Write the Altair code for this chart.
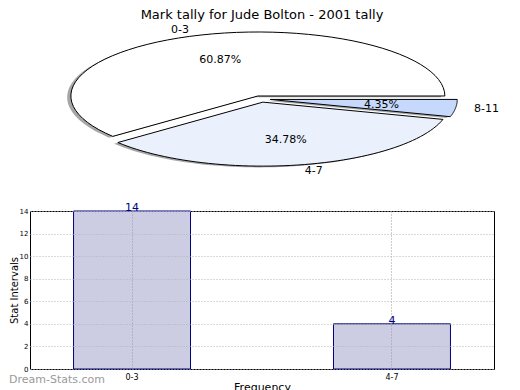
import altair as alt
import pandas as pd

# ---- data ----
title_text = "Mark tally for Jude Bolton - 2001 tally"
pie_cats = ["0-3", "4-7", "8-11"]
pie_vals = [14, 8, 1]
pie_colors = ["#ffffff", "#eaf1fd", "#c6d9fd"]

bar_cats = ["0-3", "4-7"]
bar_vals = [14, 4]
y_ticks = [0, 2, 4, 6, 8, 10, 12, 14]
watermark = "Dream-Stats.com"

FONT = "DejaVu Sans"
EXPLODE = 0.05
N_ARC = 60

pie_df = pd.DataFrame({"cat": pie_cats, "val": pie_vals, "order": list(range(len(pie_cats)))})
bar_df = pd.DataFrame({"cat": bar_cats, "val": bar_vals})
wm_df = pd.DataFrame({"t": [watermark]})

# ---- pie (ellipse, matplotlib style: start east, counter-clockwise) ----
xs = alt.Scale(domain=[-1.2353, 1.246], nice=False, zero=False)
ys = alt.Scale(domain=[-1.46875, 1.15625], nice=False, zero=False)

base = (
    alt.Chart(pie_df)
    .transform_joinaggregate(total="sum(val)")
    .transform_window(cum="sum(val)", sort=[alt.SortField("order")], frame=[None, 0])
    .transform_calculate(
        a0="2*PI*(datum.cum - datum.val)/datum.total",
        a1="2*PI*datum.cum/datum.total",
    )
    .transform_calculate(am="(datum.a0 + datum.a1)/2")
    .transform_calculate(
        ex=f"{EXPLODE}*cos(datum.am)",
        ey=f"{EXPLODE}*sin(datum.am)",
        pct="format(100*datum.val/datum.total, '.2f') + '%'",
    )
)

wedge_pts = (
    base.transform_calculate(k=f"sequence(0, {N_ARC + 1})")
    .transform_flatten(["k"])
    .transform_calculate(
        t=f"datum.a0 + (datum.a1 - datum.a0)*max(datum.k - 1, 0)/{N_ARC - 1}",
        r="datum.k == 0 ? 0 : 1",
    )
    .transform_calculate(
        px="datum.ex + datum.r*cos(datum.t)",
        py="datum.ey + datum.r*sin(datum.t)",
    )
)

shadow = wedge_pts.transform_calculate(
    sx="datum.px - 0.02", sy="datum.py - 0.02"
).mark_line(interpolate="linear-closed", strokeWidth=0, fill="#4d4d4d", fillOpacity=0.5).encode(
    x=alt.X("sx:Q", scale=xs, axis=None),
    y=alt.Y("sy:Q", scale=ys, axis=None),
    order="k:Q",
    detail="cat:N",
)

wedges = wedge_pts.mark_line(
    interpolate="linear-closed", stroke="black", strokeWidth=1, strokeJoin="miter"
).encode(
    x=alt.X("px:Q", scale=xs, axis=None),
    y=alt.Y("py:Q", scale=ys, axis=None),
    order="k:Q",
    detail="cat:N",
    fill=alt.Fill("cat:N", scale=alt.Scale(domain=pie_cats, range=pie_colors), legend=None),
)

lab = base.transform_calculate(
    lx="datum.ex + 1.1*cos(datum.am)",
    ly="datum.ey + 1.1*sin(datum.am)",
    cx="cos(datum.am)",
)
labels_r = lab.transform_filter("datum.cx > 0").mark_text(
    align="left", baseline="middle", font=FONT, fontSize=11, color="black"
).encode(x=alt.X("lx:Q", scale=xs, axis=None), y=alt.Y("ly:Q", scale=ys, axis=None), text="cat:N")
labels_l = lab.transform_filter("datum.cx <= 0").mark_text(
    align="right", baseline="middle", font=FONT, fontSize=11, color="black"
).encode(x=alt.X("lx:Q", scale=xs, axis=None), y=alt.Y("ly:Q", scale=ys, axis=None), text="cat:N")

pcts = base.transform_calculate(
    qx="datum.ex + 0.6*cos(datum.am)",
    qy="datum.ey + 0.6*sin(datum.am)",
).mark_text(align="center", baseline="middle", font=FONT, fontSize=11, color="black").encode(
    x=alt.X("qx:Q", scale=xs, axis=None), y=alt.Y("qy:Q", scale=ys, axis=None), text="pct:N"
)

pie = alt.layer(shadow, wedges, labels_r, labels_l, pcts).properties(
    width=464,
    height=168,
    title=alt.TitleParams(
        title_text, font=FONT, fontSize=13, fontWeight="normal", anchor="middle", offset=2, color="black"
    ),
    view=alt.ViewBackground(strokeOpacity=0),
)

# ---- bar chart ----
x_enc = alt.X(
    "cat:N",
    sort=bar_cats,
    scale=alt.Scale(paddingInner=0.55, paddingOuter=0.1675),
    axis=alt.Axis(
        title="Frequency", labelAngle=0, labelFont=FONT, labelFontSize=8, labelPadding=4,
        ticks=False, domain=False, grid=True, gridDash=[1, 2], gridColor="#9a9a9a",
        bandPosition=0.5, titleFont=FONT, titleFontSize=11, titleFontWeight="normal",
        titlePadding=0, zindex=1, labelColor="black", titleColor="black",
    ),
)
y_enc = alt.Y(
    "val:Q",
    scale=alt.Scale(domain=[0, 14], nice=False),
    axis=alt.Axis(
        values=y_ticks, tickCount=8, title="Stat Intervals", labelFont=FONT, labelFontSize=7,
        labelPadding=2, labelOverlap=False, labelFlush=False, ticks=False, domain=False, grid=True,
        gridDash=[1, 2], gridColor="#b5b5b5",
        titleFont=FONT, titleFontSize=10, titleFontWeight="normal", titlePadding=0,
        zindex=1, labelColor="black", titleColor="black",
    ),
)

bars = alt.Chart(bar_df).mark_bar(fill="#ccccE3", stroke="#000080", strokeWidth=1).encode(x=x_enc, y=y_enc)
bar_text = alt.Chart(bar_df).mark_text(
    baseline="alphabetic", color="#000080", font=FONT, fontSize=11
).encode(x=x_enc, y=y_enc, text="val:Q")
wm = alt.Chart(wm_df).mark_text(
    align="left", baseline="middle", font=FONT, fontSize=11, color="#9a9a9a"
).encode(x=alt.value(-21), y=alt.value(169), text="t:N")

barchart = alt.layer(bars, bar_text, wm).properties(
    width=464, height=158, view=alt.ViewBackground(stroke="black", strokeWidth=1)
)

chart = alt.vconcat(pie, barchart, spacing=8).properties(padding=0).configure(font=FONT)

chart.save("out.html", embed_options={"renderer": "svg", "actions": False})
